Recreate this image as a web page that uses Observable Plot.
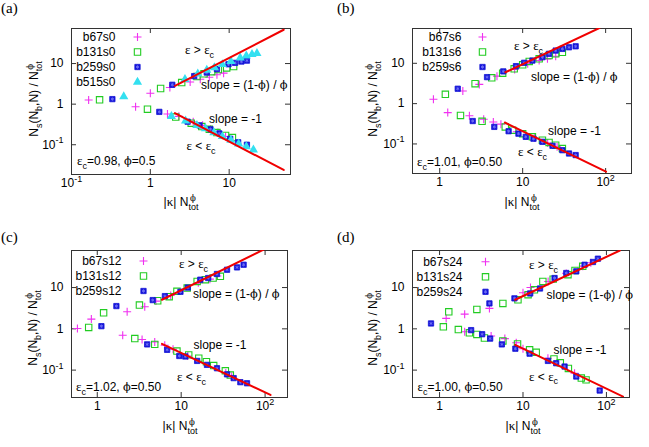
<!DOCTYPE html>
<html><head><meta charset="utf-8">
<script src="https://cdn.jsdelivr.net/npm/d3@7"></script>
<script src="https://cdn.jsdelivr.net/npm/@observablehq/plot@0.6"></script>
<style>
body{margin:0;background:#fff;}
#wrap{position:relative;width:649px;height:447px;overflow:hidden;background:#fff;}
.panel{position:absolute;}
</style></head><body><div id="wrap"></div>
<script>
// ---------- data ----------
const panelLabels = ["(a)", "(b)", "(c)", "(d)"];
const namesA = ["b67s0", "b131s0", "b259s0", "b515s0"];
const namesB = ["b67s6", "b131s6", "b259s6"];
const namesC = ["b67s12", "b131s12", "b259s12"];
const namesD = ["b67s24", "b131s24", "b259s24"];
const paramTexts = ["ε_{c}=0.98, ϕ=0.5", "ε_{c}=1.01, ϕ=0.50", "ε_{c}=1.02, ϕ=0.50", "ε_{c}=1.00, ϕ=0.50"];
const xTicksA = [0.1, 1, 10];
const xTicksBCD = [1, 10, 100];
const yTicks = [0.1, 1, 10];

const a_b67s0 = [[0.165,1.26],[1.0,1.85],[1.77,2.57],[3.2,3.5],[4.3,4.1],[5.6,4.6],[7.0,5.3],[8.5,5.8],
  [0.65,0.86],[1.65,0.57],[2.3,0.5],[3.5,0.37],[4.6,0.3],[5.8,0.24],[7.2,0.2],[9.0,0.16]];
const a_b131s0 = [[0.227,1.28],[1.35,2.43],[2.5,3.4],[3.9,4.8],[4.8,5.6],[6.0,6.3],[7.3,7.1],[9.3,7.8],[11.4,8.4],
  [0.92,0.75],[2.1,0.48],[3.3,0.34],[4.5,0.28],[5.6,0.24],[7.0,0.2],[9.0,0.17],[11.0,0.15]];
const a_b259s0 = [[0.33,1.33],[1.9,3.0],[3.6,4.9],[5.2,6.0],[7.0,7.3],[9.8,9.6],[11.9,10.4],[14.3,11.2],[16.8,11.8],
  [1.3,0.645],[2.97,0.37],[4.2,0.3],[5.8,0.24],[7.5,0.19],[10.3,0.14],[13.0,0.115],[16.8,0.1]];
const a_b515s0 = [[0.46,1.54],[2.75,4.1],[4.0,5.6],[5.2,6.9],[6.5,8.0],[8.2,9.5],[10.5,11.3],[13.8,13.8],[16.5,15.5],[19.5,16.8],[22.5,17.8],
  [1.85,0.5],[2.8,0.39],[3.9,0.3],[5.0,0.25],[6.4,0.2],[8.2,0.16],[10.5,0.13],[13.2,0.105],[16.5,0.09],[20.3,0.075]];

const b_b67s6 = [[0.84,1.28],[1.9,2.05],[3.0,3.0],[4.9,4.8],[8.0,7.0],[11.5,9.7],[15.8,11.7],[19.9,12.9],[25,15],
  [1.25,0.6],[2.28,0.5],[3.39,0.41],[4.43,0.35],[5.47,0.31],[8.5,0.2],[14,0.14],[20,0.105],[26,0.085]];
const b_b131s6 = [[1.17,1.7],[2.67,3.12],[4.24,4.38],[5.74,5.7],[7.9,7.3],[10,9.2],[12,11.1],[15.8,12.9],[20.8,15.6],[25,17.2],[30.1,18.8],
  [1.78,0.51],[3.24,0.365],[6.17,0.265],[7.57,0.22],[10,0.18],[13.1,0.15],[17.3,0.124],[20.8,0.109],[25,0.093],[30.1,0.077]];
const b_b259s6 = [[1.65,2.34],[3.72,4.54],[5.84,6.3],[8.3,8.5],[10.4,10.3],[13.1,11.7],[17.3,14.2],[20.8,17.2],[25,20.7],[30.1,22.8],[36.2,25],[43.5,26.4],
  [2.5,0.37],[4.55,0.265],[6.77,0.207],[8.9,0.18],[10.9,0.15],[13.5,0.135],[17.3,0.113],[22.9,0.09],[30.1,0.07],[36.2,0.058],[43.5,0.053]];

const c_b67s12 = [[0.58,1.02],[0.85,1.72],[2.27,2.59],[3.68,3.42],[5.0,4.7],[7.5,6.4],[16,13],[22,16],[27,19],
  [2.01,0.70],[3.42,0.55],[4.84,0.48],[6.37,0.40],[8.0,0.32],[12,0.22],[34,0.085],[40,0.07]];
const c_b131s12 = [[0.79,1.08],[1.19,2.44],[3.18,3.76],[5.25,4.79],[7.2,6.0],[8.9,8.1],[11.8,9.7],[15.5,14.1],[19.4,15.5],[24,17],[29.3,18.7],
  [2.8,0.58],[4.84,0.42],[8.9,0.29],[12.3,0.234],[16.2,0.194],[20,0.16],[24.4,0.129],[33.6,0.096],[38.5,0.076]];
const c_b259s12 = [[1.12,1.16],[1.69,3.56],[4.58,4.97],[6.4,6.2],[9.8,7.9],[12,10],[16.9,15.5],[21,17],[26.7,21.3],[35.2,27],[46.3,30.8],[55.5,35.7],
  [3.93,0.42],[6.8,0.31],[9.5,0.22],[11.2,0.214],[15.5,0.167],[20.3,0.134],[26.7,0.111],[35.2,0.079],[42.2,0.064],[50.7,0.051],[60.9,0.048]];

const d_b67s24 = [[1.2,1.79],[2.0,2.27],[3.96,3.13],[10,7.5],[12.3,10],[20,14],[33,22],[52,33],[65,40],
  [2.0,0.85],[4.15,0.67],[6.06,0.58],[8.3,0.46],[10,0.33],[19.9,0.194],[41.5,0.084]];
const d_b131s24 = [[1.29,2.59],[2.8,2.95],[5.74,4.13],[8.7,5.06],[11.5,6.7],[13.7,8.8],[17.3,14.1],[23,16],[34.6,20.5],[42,26],[52,32.7],
  [1.11,1.12],[1.68,0.96],[2.28,0.8],[2.8,0.73],[3.45,0.6],[5.74,0.51],[8.6,0.43],[12,0.31],[14.4,0.27],[23.5,0.187],[28,0.15],[35,0.11],[50,0.064],[57,0.058]];
const d_b259s24 = [[0.79,1.35],[3.96,4.13],[7.9,5.47],[12.2,7.2],[16,9.5],[23.9,17],[33,22.5],[43.5,24.7],[54.7,35.7],[69,41.6],[79,50],
  [2.39,0.93],[3.24,0.74],[4.04,0.58],[5.58,0.42],[8.1,0.33],[12,0.25],[19.9,0.167],[25,0.147],[31.5,0.122],[43.5,0.07],[83,0.032]];

// fitted guide lines (end points)
const a_upperFit = [[2.05,2.83],[49.2,68]];
const a_lowerFit = [[2.05,0.6],[49.2,0.0239]];
const b_upperFit = [[6.2,6.0],[84,75]];
const b_lowerFit = [[6.1,0.34],[101,0.0205]];
const c_upperFit = [[5.9,5.06],[96,83]];
const c_lowerFit = [[5.9,0.433],[116,0.025]];
const d_upperFit = [[8.06,5.06],[145,79]];
const d_lowerFit = [[8.06,0.41],[158,0.0229]];

// ---------- styles ----------
const seriesStyles = [
  [{symbol: "plus", stroke: "#f030f0", fill: "none", r: 2.7, strokeWidth: 1.1}],
  [{symbol: "square", stroke: "#22cc22", fill: "none", r: 3.6, strokeWidth: 1.1}],
  [{symbol: "square", stroke: "#1515d8", fill: "#1515d8", r: 3.0, strokeWidth: 0.8},
   {symbol: "asterisk", stroke: "#6f6ff5", fill: "none", r: 1.6, strokeWidth: 0.9}],
  [{symbol: "triangle", stroke: "none", fill: "#33e0f0", r: 3.4, strokeWidth: 1}]
];

const panels = [
  {left: 0, top: 0, width: 325, height: 222, m: [28, 35, 48, 71], xDom: [0.1, 60], yDom: [0.0185, 73], xt: xTicksA,
   series: [a_b67s0, a_b131s0, a_b259s0, a_b515s0], names: namesA, fits: [a_upperFit, a_lowerFit],
   legText: 44, legMark: 66, legRow0: 8.5,
   ann: [[185, 54], [201, 89], [209, 122.5], [186.5, 150], [77, 165]],
   xl: [181, 206], yl: [38, 99], pl: [1, 13]},
  {left: 325, top: 0, width: 324, height: 222, m: [28, 18, 49, 87], xDom: [0.47, 205], yDom: [0.0185, 73], xt: xTicksBCD,
   series: [b_b67s6, b_b131s6, b_b259s6], names: namesB, fits: [b_upperFit, b_lowerFit],
   legText: 49, legMark: 70, legRow0: 8.5,
   ann: [[189, 50], [206, 80.5], [223, 135], [193, 156], [92, 166]],
   xl: [197, 206], yl: [52, 99], pl: [12, 13]},
  {left: 0, top: 222, width: 325, height: 225, m: [28, 38, 50, 71], xDom: [0.493, 185], yDom: [0.0217, 79], xt: xTicksBCD,
   series: [c_b67s12, c_b131s12, c_b259s12], names: namesC, fits: [c_upperFit, c_lowerFit],
   legText: 50, legMark: 72, legRow0: 10.5,
   ann: [[179, 46], [193, 76], [193.5, 127], [177, 159], [76, 169]],
   xl: [180, 208], yl: [37, 106], pl: [1, 20]},
  {left: 325, top: 222, width: 324, height: 225, m: [28, 20, 50, 87], xDom: [0.474, 189], yDom: [0.0217, 79], xt: xTicksBCD,
   series: [d_b67s24, d_b131s24, d_b259s24], names: namesD, fits: [d_upperFit, d_lowerFit],
   legText: 50, legMark: 73, legRow0: 11.3,
   ann: [[204, 47], [221.5, 77], [228.5, 131.5], [204, 158.5], [92.5, 169]],
   xl: [198, 208], yl: [52, 106], pl: [12, 20]}
];

const annTexts = ["ε > ε_{c}", "slope = (1-ϕ) / ϕ", "slope = -1", "ε < ε_{c}"];
const yLabelText = "N_{s}(N_{b},N) / N_{tot}^{ϕ}";
const xLabelText = "|κ| N_{tot}^{ϕ}";

const fmtTick = d => d === 0.1 ? "10^{-1}" : d === 100 ? "10^{2}" : String(d);
const SANS = "'Liberation Sans', Arial, Helvetica, sans-serif";
const SERIF = "'Liberation Serif', 'Times New Roman', serif";
const PHIFONT = "'DejaVu Serif', 'Liberation Serif', serif";
const GREEK = /[εϕκ]/;

function parseRich(s) {
  const segs = [];
  let i = 0, buf = "";
  while (i < s.length) {
    const c = s[i];
    if ((c === "_" || c === "^") && s[i + 1] === "{") {
      if (buf) { segs.push({t: buf, mode: "n"}); buf = ""; }
      const j = s.indexOf("}", i);
      segs.push({t: s.slice(i + 2, j), mode: c === "_" ? "sub" : "sup"});
      i = j + 1;
    } else { buf += c; i++; }
  }
  if (buf) segs.push({t: buf, mode: "n"});
  return segs;
}

function fillRich(textSel, str, size) {
  const segs = parseRich(str);
  let shift = 0;
  let prev = null;
  for (const seg of segs) {
    const target = seg.mode === "sub" ? size * 0.3 : seg.mode === "sup" ? -size * 0.45 : 0;
    const fs = seg.mode === "n" ? size : size * 0.75;
    const pieces = seg.t.split(/([εϕκ])/).filter(p => p !== "");
    let first = true;
    let segWidth = 0;
    const nodes = [];
    for (const p of pieces) {
      const ts = textSel.append("tspan").text(p).attr("font-size", fs).attr("fill", "#000");
      if (p === "ϕ") ts.attr("font-family", PHIFONT).attr("font-size", fs * 0.95);
      else if (GREEK.test(p)) ts.attr("font-family", SERIF).attr("font-size", fs * 1.08);
      if (first) {
        ts.attr("dy", target - shift);
        if (seg.mode === "sup" && prev && prev.mode === "sub") ts.attr("dx", -prev.width * 0.85);
        first = false;
      }
      nodes.push(ts);
    }
    shift = target;
    for (const n of nodes) { try { segWidth += n.node().getComputedTextLength(); } catch (e) {} }
    prev = {mode: seg.mode, width: segWidth};
  }
}

function addText(g, str, x, y, opts = {}) {
  const size = opts.size || 12;
  const t = g.append("text")
    .attr("x", x).attr("y", y)
    .attr("font-family", opts.family || SANS)
    .attr("font-size", size)
    .attr("fill", "#000")
    .attr("text-anchor", opts.anchor || "start");
  if (opts.transform) t.attr("transform", opts.transform);
  fillRich(t, str, size);
  return t;
}

const wrap = document.getElementById("wrap");

panels.forEach((P, pi) => {
  const [mt, mr, mb, ml] = P.m;
  const plotW = P.width - ml - mr;
  const plotH = P.height - mt - mb;
  const marks = [];
  marks.push(Plot.frame({stroke: "#333", strokeWidth: 1}));
  marks.push(Plot.tickX(P.xt, {x: d => d, insetTop: plotH - 5, stroke: "#333"}));
  marks.push(Plot.tickX(P.xt, {x: d => d, insetBottom: plotH - 5, stroke: "#333"}));
  marks.push(Plot.tickY(yTicks, {y: d => d, insetRight: plotW - 5, stroke: "#333"}));
  marks.push(Plot.tickY(yTicks, {y: d => d, insetLeft: plotW - 5, stroke: "#333"}));
  marks.push(Plot.axisX({ticks: P.xt, tickSize: 0, tickPadding: 4, tickFormat: fmtTick, label: null}));
  marks.push(Plot.axisY({ticks: yTicks, tickSize: 0, tickPadding: 8, tickFormat: fmtTick, label: null}));
  P.series.forEach((data, si) => {
    for (const st of seriesStyles[si]) {
      marks.push(Plot.dot(data, {x: d => d[0], y: d => d[1], symbol: st.symbol, stroke: st.stroke, fill: st.fill, r: st.r, strokeWidth: st.strokeWidth}));
    }
  });
  P.fits.forEach(f => {
    marks.push(Plot.line(f, {x: d => d[0], y: d => d[1], stroke: "#f00000", strokeWidth: 2, clip: true}));
  });
  P.names.forEach((name, si) => {
    const dy = P.legRow0 + 15 * si;
    marks.push(Plot.text([name], {text: d => d, frameAnchor: "top-left", dx: P.legText, dy: dy, textAnchor: "end", lineAnchor: "middle", fontSize: 12, fill: "#000"}));
    for (const st of seriesStyles[si]) {
      marks.push(Plot.dot([name], {frameAnchor: "top-left", dx: P.legMark, dy: dy, symbol: st.symbol, stroke: st.stroke, fill: st.fill, r: st.r, strokeWidth: st.strokeWidth}));
    }
  });

  const svg = Plot.plot({
    width: P.width, height: P.height,
    marginTop: mt, marginRight: mr, marginBottom: mb, marginLeft: ml,
    style: {fontFamily: SANS, fontSize: "12px", background: "transparent", color: "#000", overflow: "visible"},
    x: {type: "log", domain: P.xDom},
    y: {type: "log", domain: P.yDom},
    marks
  });
  const div = document.createElement("div");
  div.className = "panel";
  div.style.left = P.left + "px";
  div.style.top = P.top + "px";
  div.appendChild(svg);
  wrap.appendChild(div);

  const s = d3.select(svg);
  s.selectAll("g[aria-label$='tick label'] text").each(function () {
    const txt = this.textContent;
    if (txt.includes("^")) {
      const sel = d3.select(this);
      sel.text(null);
      fillRich(sel, txt, 12);
    }
  });
  const g = s.append("g");
  annTexts.forEach((t, k) => addText(g, t, P.ann[k][0], P.ann[k][1], {size: 12}));
  addText(g, paramTexts[pi], P.ann[4][0], P.ann[4][1], {size: 12});
  addText(g, xLabelText, P.xl[0], P.xl[1], {size: 12, anchor: "middle"});
  addText(g, yLabelText, 0, 0, {size: 12, anchor: "middle", transform: `translate(${P.yl[0]},${P.yl[1]}) rotate(-90)`});
  addText(g, panelLabels[pi], P.pl[0], P.pl[1], {size: 15, family: SERIF});
});
</script>
</body></html>
